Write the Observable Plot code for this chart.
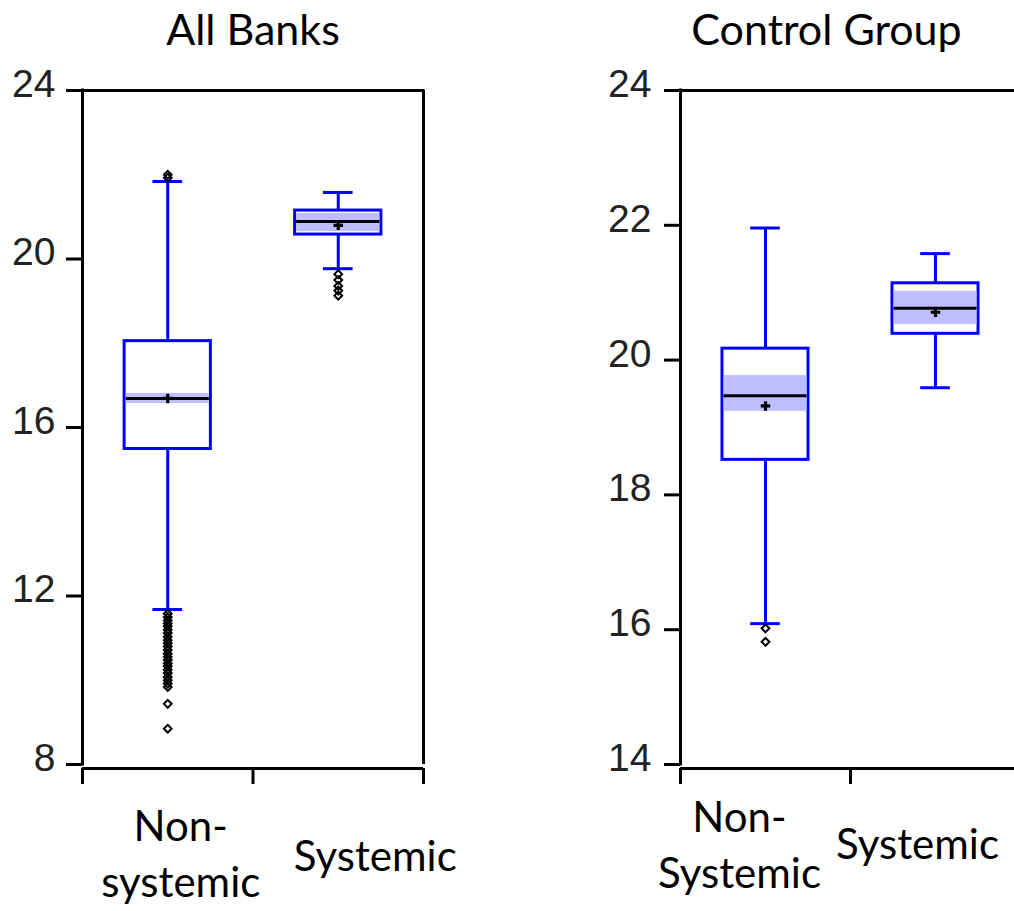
<!DOCTYPE html>
<html>
<head>
<meta charset="utf-8">
<script src="https://cdn.jsdelivr.net/npm/d3@7"></script>
<script src="https://cdn.jsdelivr.net/npm/@observablehq/plot@0.6"></script>
<style>
  html, body { margin: 0; padding: 0; background: #fff; }
  #chart { position: relative; width: 1014px; height: 911px; overflow: hidden; }
  #chart svg { position: absolute; top: 0; }
</style>
</head>
<body>
<div id="chart"></div>
<script>
// Groups on the x axis
const categories = ["Non-systemic", "Systemic"];

// ---- All Banks: box-plot summaries ----
const allLowerWhisker = [11.68, 19.77];
const allQ1 = [15.49, 20.58];
const allMedian = [16.69, 20.89];
const allQ3 = [18.05, 21.15];
const allUpperWhisker = [21.84, 21.58];
const allMean = [16.69, 20.80];
const allMedianCiLow = [16.57, 20.65];
const allMedianCiHigh = [16.81, 21.08];
const allOutliersNonSystemic = [
  22.00, 21.93,
  11.58, 11.50, 11.42, 11.35, 11.28, 11.20, 11.12, 11.03, 10.95, 10.88,
  10.80, 10.72, 10.63, 10.55, 10.48, 10.40, 10.33, 10.25, 10.17, 10.08,
  10.00, 9.92, 9.84, 9.44, 8.85
];
const allOutliersSystemic = [19.64, 19.50, 19.36, 19.25, 19.13];
const allTicks = [8, 12, 16, 20, 24];
const allLabels = ["Non-\nsystemic", "Systemic"];

// ---- Control Group: box-plot summaries ----
const ctlLowerWhisker = [16.09, 19.59];
const ctlQ1 = [18.52, 20.39];
const ctlMedian = [19.47, 20.77];
const ctlQ3 = [20.17, 21.14];
const ctlUpperWhisker = [21.96, 21.58];
const ctlMean = [19.32, 20.71];
const ctlMedianCiLow = [19.24, 20.53];
const ctlMedianCiHigh = [19.77, 21.02];
const ctlOutliersNonSystemic = [16.02, 15.82];
const ctlOutliersSystemic = [];
const ctlTicks = [14, 16, 18, 20, 22, 24];
const ctlLabels = ["Non-\nSystemic", "Systemic"];

// ---- shared drawing setup ----
const xDomain = [-0.5, 1.5];          // one unit per group, boundaries at half-units
const boxHalf = 0.253;                // half box width (x units)
const innerHalf = 0.244;              // half width of the median band inside the box stroke
const capHalf = 0.087;                // half whisker-cap width
const blue = "#0000ff";
const bandFill = "#bdbdff";
const labelFont = "Lato, 'Open Sans', sans-serif";

function boxPanel(cfg) {
  const rows = categories.map((c, i) => ({
    i, group: c,
    low: cfg.low[i], q1: cfg.q1[i], median: cfg.median[i], q3: cfg.q3[i],
    high: cfg.high[i], mean: cfg.mean[i], ciLow: cfg.ciLow[i], ciHigh: cfg.ciHigh[i]
  }));
  const outliers = cfg.outliers.flatMap((vals, i) => vals.map(v => ({i, v})));
  const [ymin, ymax] = cfg.yDomain;
  const xTicks = d3.range(xDomain[0], xDomain[1] + 0.01, 1);

  return Plot.plot({
    width: 507,
    height: 911,
    marginTop: 90,
    marginBottom: 147,
    marginLeft: cfg.marginLeft,
    marginRight: cfg.marginRight,
    x: {type: "linear", domain: xDomain, range: cfg.xRange, axis: null},
    y: {type: "linear", domain: cfg.yDomain, axis: null},
    style: {background: "transparent", overflow: "hidden"},
    marks: [
      // frame: top border, y axis line, right border, offset x axis line
      Plot.ruleY([ymax], {x1: xDomain[0], x2: xDomain[1], stroke: "black", strokeWidth: 3, strokeLinecap: "square"}),
      Plot.ruleX([xDomain[0]], {y1: ymin, y2: ymax, stroke: "black", strokeWidth: 3, strokeLinecap: "square"}),
      Plot.ruleX([xDomain[1]], {y1: ymin, y2: ymax, stroke: "black", strokeWidth: 3}),
      Plot.ruleY([ymin], {x1: xDomain[0], x2: xDomain[1], dy: 4, stroke: "black", strokeWidth: 3}),

      // x ticks at the group boundaries (no text)
      Plot.axisX(xTicks, {tickSize: 16, strokeWidth: 3, stroke: "black", fill: "none", dy: 4, label: null}),
      // y ticks and y tick labels
      Plot.axisY(cfg.ticks, {tickSize: 16, strokeWidth: 3, stroke: "black", fill: "none", label: null}),
      Plot.axisY(cfg.ticks, {
        tickSize: 16, tickPadding: cfg.tickPadding, stroke: "none", dy: -6, label: null,
        tickFormat: d => String(d),
        fontSize: 39, fontFamily: "'Liberation Sans', Arial, sans-serif", fill: "#222"
      }),

      // whiskers and caps
      Plot.ruleX(rows, {x: "i", y1: "low", y2: "q1", stroke: blue, strokeWidth: 3}),
      Plot.ruleX(rows, {x: "i", y1: "q3", y2: "high", stroke: blue, strokeWidth: 3}),
      Plot.ruleY(rows, {y: "low", x1: d => d.i - capHalf, x2: d => d.i + capHalf, stroke: blue, strokeWidth: 3}),
      Plot.ruleY(rows, {y: "high", x1: d => d.i - capHalf, x2: d => d.i + capHalf, stroke: blue, strokeWidth: 3}),

      // interquartile box, median confidence band, median, mean
      Plot.rect(rows, {x1: d => d.i - boxHalf, x2: d => d.i + boxHalf, y1: "q1", y2: "q3", fill: "white", stroke: blue, strokeWidth: 3}),
      Plot.rect(rows, {x1: d => d.i - innerHalf, x2: d => d.i + innerHalf, y1: "ciLow", y2: "ciHigh", fill: bandFill}),
      Plot.ruleY(rows, {y: "median", x1: d => d.i - innerHalf, x2: d => d.i + innerHalf, stroke: "black", strokeWidth: 3}),
      Plot.dot(rows, {x: "i", y: "mean", symbol: "cross", r: 4, fill: "black", stroke: "none"}),

      // outliers
      Plot.dot(outliers, {x: "i", y: "v", symbol: "diamond2", r: 3.5, fill: "none", stroke: "black", strokeWidth: 2}),

      // panel title
      Plot.text([cfg.title], {
        frameAnchor: "top", lineAnchor: "bottom", dy: -46, dx: cfg.titleDx,
        fontSize: 43, fontFamily: labelFont, fill: "black"
      }),

      // group labels under the axis
      ...cfg.labels.map((label, i) => Plot.text([label], {
        x: () => i, text: d => d, frameAnchor: "bottom", lineAnchor: "bottom",
        dx: cfg.labelDx[i], dy: cfg.labelDy[i],
        fontSize: 42, lineHeight: 1.31, fontFamily: labelFont, fill: "black"
      }))
    ]
  });
}

const chart = document.getElementById("chart");

const left = boxPanel({
  title: "All Banks", titleDx: 0,
  yDomain: [8, 24], ticks: allTicks, tickPadding: 11,
  marginLeft: 82, marginRight: 84, xRange: [82, 423],
  low: allLowerWhisker, q1: allQ1, median: allMedian, q3: allQ3, high: allUpperWhisker,
  mean: allMean, ciLow: allMedianCiLow, ciHigh: allMedianCiHigh,
  outliers: [allOutliersNonSystemic, allOutliersSystemic],
  labels: allLabels, labelDx: [13, 37], labelDy: [132, 106]
});
left.style.left = "0px";
chart.appendChild(left);

const right = boxPanel({
  title: "Control Group", titleDx: -21,
  yDomain: [14, 24], ticks: ctlTicks, tickPadding: 13,
  marginLeft: 173, marginRight: 0, xRange: [173, 513],
  low: ctlLowerWhisker, q1: ctlQ1, median: ctlMedian, q3: ctlQ3, high: ctlUpperWhisker,
  mean: ctlMean, ciLow: ctlMedianCiLow, ciHigh: ctlMedianCiHigh,
  outliers: [ctlOutliersNonSystemic, ctlOutliersSystemic],
  labels: ctlLabels, labelDx: [-26, -18], labelDy: [123, 94]
});
right.style.left = "507px";
chart.appendChild(right);
</script>
</body>
</html>
